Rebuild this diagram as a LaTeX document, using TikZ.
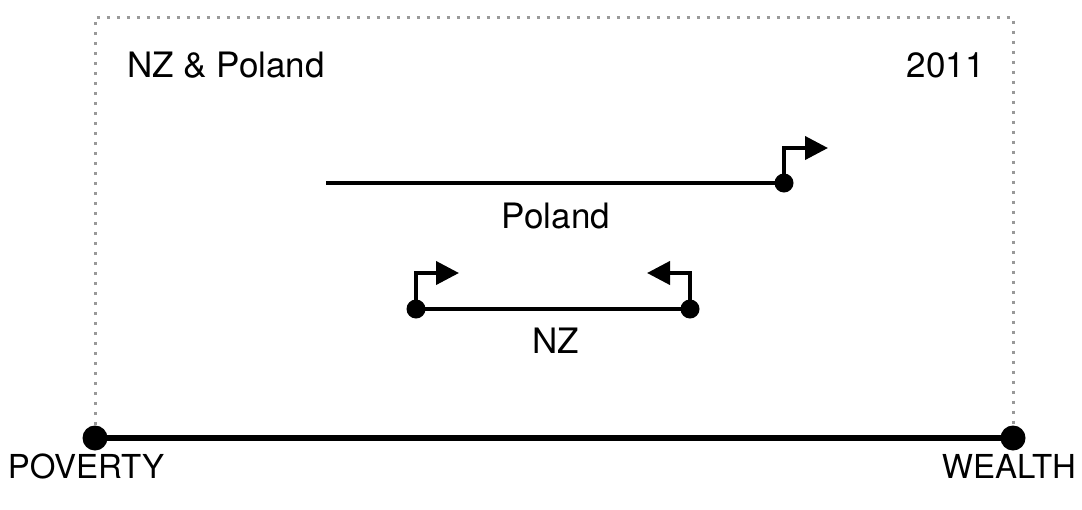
\documentclass[tikz,border=0pt]{standalone}
\usepackage{fontspec}
\setmainfont{TeX Gyre Heros}
\usetikzlibrary{arrows.meta}
\begin{document}
\begin{tikzpicture}[x=1pt,y=-1pt,
  lbl/.style={font=\fontsize{35}{35}\selectfont, inner sep=0pt},
  axl/.style={font=\fontsize{33}{33}\selectfont, inner sep=0pt},
  frame/.style={draw=gray!80, line width=3pt, dash pattern=on 3pt off 7pt},
  bar/.style={line width=4pt},
  turn/.style={line width=4pt, -{Triangle[length=23pt,width=23pt]}},
  dotn/.style={circle, fill=black, inner sep=0pt, minimum size=#1}
]
\useasboundingbox (0,0) rectangle (1082,509);
% frame
\coordinate (tl) at (96,17);
\coordinate (tr) at (1012,17);
\node[dotn=25pt] (pov) at (95,438) {};
\node[dotn=25pt] (wea) at (1013,438) {};
\draw[frame] (pov.north) |- (tl) -- (tr) -| (wea.north);
\draw[line width=6pt] (pov.center) -- (wea.center);
\node[lbl, anchor=west] (title) at (127,65) {NZ \& Poland};
\node[lbl, anchor=east] (year) at (985,65) {2011};
\node[axl] (povl) at (86,466) {POVERTY};
\node[axl] (weal) at (1009,466) {WEALTH};
% Poland
\coordinate (pa) at (326,183);
\node[dotn=19pt] (pb) at (784,183) {};
\coordinate (pe) at (828,148);
\draw[bar] (pa) -- (pb.center);
\draw[turn] (pb.center) |- (pe);
\node[lbl] (pol) at (556,216) {Poland};
% NZ
\node[dotn=19pt] (na) at (416,309) {};
\node[dotn=19pt] (nb) at (690,309) {};
\coordinate (nae) at (459,273);
\coordinate (nbe) at (647,273);
\draw[bar] (na.center) -- (nb.center);
\draw[turn] (na.center) |- (nae);
\draw[turn] (nb.center) |- (nbe);
\node[lbl] (nz) at (556,341) {NZ};
\end{tikzpicture}
\end{document}
